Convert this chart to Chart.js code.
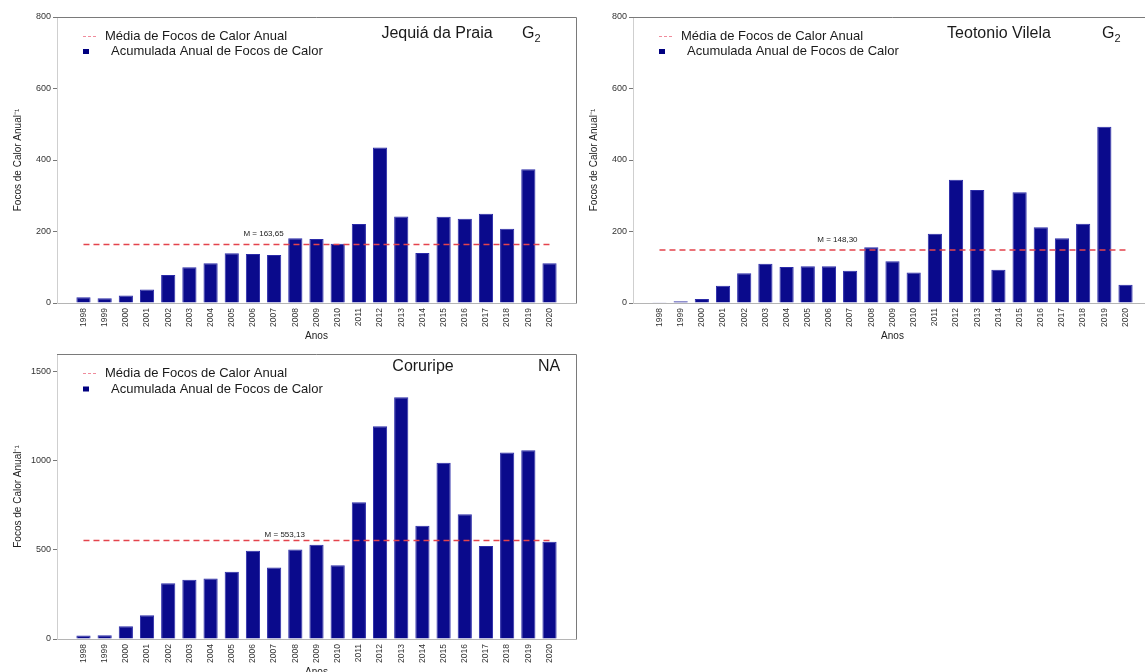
<!DOCTYPE html>
<html>
<head>
<meta charset="utf-8">
<script src="https://cdn.jsdelivr.net/npm/chart.js@4/dist/chart.umd.min.js"></script>
<style>
  html, body { margin: 0; padding: 0; background: #fff; overflow: hidden; width: 1145px; height: 672px; }
  canvas { position: absolute; }
</style>
</head>
<body>
<canvas id="c1" width="590" height="342" style="left:0px;top:0px"></canvas>
<canvas id="c2" width="590" height="342" style="left:576px;top:0px"></canvas>
<canvas id="c3" width="590" height="341" style="left:0px;top:337px"></canvas>
<script>
// Annual accumulated fire hotspots per municipality, 1998-2020
const years = [1998, 1999, 2000, 2001, 2002, 2003, 2004, 2005, 2006, 2007, 2008, 2009,
               2010, 2011, 2012, 2013, 2014, 2015, 2016, 2017, 2018, 2019, 2020];
const focosJequia   = [16, 13, 21, 38, 78, 100, 111, 139, 137, 134, 181, 179,
                       166, 221, 435, 242, 140, 241, 236, 250, 208, 374, 111];
const focosTeotonio = [2, 5, 11, 48, 83, 110, 101, 103, 103, 90, 156, 117,
                       85, 194, 345, 316, 93, 310, 212, 181, 222, 493, 51];
const focosCoruripe = [19, 21, 72, 134, 313, 333, 339, 377, 495, 401, 503, 529,
                       414, 768, 1194, 1357, 636, 990, 700, 522, 1047, 1060, 546];
const mediaAnual = [163.65, 148.30, 553.13];
const municipios = ['Jequiá da Praia', 'Teotonio Vilela', 'Coruripe'];
const grupos = [['G', '2'], ['G', '2'], ['NA', '']];
const ticksJequia   = [0, 200, 400, 600, 800];
const ticksTeotonio = [0, 200, 400, 600, 800];
const ticksCoruripe = [0, 500, 1000, 1500];
const legendLabels = ['Média de Focos de Calor Anual', 'Acumulada Anual de Focos de Calor'];

const FONT = "'Liberation Sans', Arial, Helvetica, sans-serif";
Chart.defaults.font.family = FONT;

const BAR_FILL = '#0a0a8c';
const BAR_EDGE = '#2b2ba8';
const MEAN_COLOR = '#e4434c';

// Frame, in-plot legend, panel titles and the mean annotation
const panelDecor = {
  id: 'panelDecor',
  afterDraw(chart, args, o) {
    const ctx = chart.ctx;
    const a = chart.chartArea;
    ctx.save();

    // top and right frame lines
    ctx.strokeStyle = '#7a7a7a';
    ctx.lineWidth = 1;
    ctx.beginPath();
    ctx.moveTo(a.left, a.top + 0.5);
    ctx.lineTo(a.right + 0.5, a.top + 0.5);
    ctx.lineTo(a.right + 0.5, a.bottom);
    ctx.stroke();

    // legend
    const ds = chart.data.datasets;
    const meanDs = ds.find(d => d.type === 'line');
    const barDs = ds.find(d => d.type === 'bar');
    ctx.font = '13px ' + FONT;
    ctx.fillStyle = '#1a1a1a';
    ctx.textBaseline = 'middle';
    ctx.textAlign = 'left';
    const y1 = a.top + o.legendY[0], y2 = a.top + o.legendY[1];
    ctx.strokeStyle = '#f08c9c';
    ctx.lineWidth = 1.2;
    ctx.setLineDash([3, 2]);
    ctx.beginPath();
    ctx.moveTo(a.left + 26, y1);
    ctx.lineTo(a.left + 40, y1);
    ctx.stroke();
    ctx.setLineDash([]);
    ctx.fillText(meanDs.label, a.left + 48, y1);
    ctx.fillStyle = '#000080';
    ctx.fillRect(a.left + 26, y2 - 2.5, 6, 5);
    ctx.fillStyle = '#1a1a1a';
    ctx.fillText(barDs.label, a.left + 54, y2);

    // panel title and group tag
    ctx.font = '16px ' + FONT;
    ctx.textAlign = 'center';
    ctx.fillText(o.name, a.left + o.nameX, a.top + o.nameY);
    ctx.textAlign = 'left';
    const gx = a.left + o.groupX;
    ctx.fillText(o.group[0], gx, a.top + o.nameY);
    if (o.group[1]) {
      const w = ctx.measureText(o.group[0]).width;
      ctx.font = '11px ' + FONT;
      ctx.fillText(o.group[1], gx + w, a.top + o.nameY + 5);
    }

    // mean annotation
    const xs = chart.scales.x, ys = chart.scales.y;
    ctx.font = '8px ' + FONT;
    ctx.textAlign = 'center';
    ctx.fillStyle = '#1a1a1a';
    const txt = 'M = ' + o.mean.toFixed(2).replace('.', ',');
    ctx.fillText(txt, xs.getPixelForValue(o.labelAt), ys.getPixelForValue(o.mean) - o.labelLift);
    ctx.restore();
  }
};

function makePanel(id, values, mean, yTicks, yMax, decor, xHeight) {
  const first = years[0], last = years[years.length - 1];
  return new Chart(document.getElementById(id), {
    type: 'bar',
    data: {
      datasets: [
        {
          type: 'line',
          label: legendLabels[0],
          data: [{ x: first, y: mean }, { x: last, y: mean }],
          borderColor: MEAN_COLOR,
          borderWidth: 1.6,
          borderDash: [6, 4],
          pointRadius: 0,
          fill: false,
          order: 0
        },
        {
          type: 'bar',
          label: legendLabels[1],
          data: years.map((yr, i) => ({ x: yr, y: values[i] })),
          backgroundColor: BAR_FILL,
          borderColor: BAR_EDGE,
          borderWidth: 1,
          barPercentage: 0.67,
          categoryPercentage: 1,
          order: 1
        }
      ]
    },
    options: {
      responsive: false,
      animation: false,
      devicePixelRatio: 1,
      layout: { padding: { top: 17, right: 14, left: 0, bottom: 0 } },
      plugins: {
        legend: { display: false },
        tooltip: { enabled: false },
        panelDecor: Object.assign({ mean: mean }, decor)
      },
      scales: {
        x: {
          type: 'linear',
          offset: false,
          min: first - 1.25,
          max: last + 1.25,
          afterBuildTicks: s => { s.ticks = years.map(v => ({ value: v })); },
          afterFit: s => { s.height = xHeight; },
          ticks: {
            autoSkip: false,
            minRotation: 90,
            maxRotation: 90,
            padding: 5,
            color: '#333',
            font: { size: 8.5 },
            callback: v => String(v)
          },
          grid: { display: true, drawOnChartArea: false, drawTicks: false, offset: false },
          border: { display: true, color: '#b5b5b5', width: 1 },
          title: { display: true, text: 'Anos', color: '#222', font: { size: 10 }, padding: 0 }
        },
        y: {
          type: 'linear',
          min: 0,
          max: yMax,
          afterBuildTicks: s => { s.ticks = yTicks.map(v => ({ value: v })); },
          afterFit: s => { s.width = 57; },
          ticks: { padding: 2, color: '#333', font: { size: 9 }, callback: v => String(v) },
          grid: { drawOnChartArea: false, drawTicks: true, tickLength: 4, color: '#777' },
          border: { display: true, color: '#cfcfcf', width: 1 },
          title: {
            display: true,
            text: 'Focos de Calor Anual⁻¹',
            color: '#222',
            font: { size: 10 },
            padding: { top: 12, bottom: 0 }
          }
        }
      }
    },
    plugins: [panelDecor]
  });
}

makePanel('c1', focosJequia, mediaAnual[0], ticksJequia, 800, {
  name: municipios[0], group: grupos[0], nameX: 380, groupX: 465, nameY: 17,
  legendY: [19.5, 34.5], labelAt: 2006.5, labelLift: 11
}, 39);

makePanel('c2', focosTeotonio, mediaAnual[1], ticksTeotonio, 800, {
  name: municipios[1], group: grupos[1], nameX: 366, groupX: 469, nameY: 17,
  legendY: [19.5, 34.5], labelAt: 2006.4, labelLift: 10
}, 39);

makePanel('c3', focosCoruripe, mediaAnual[2], ticksCoruripe, 1600, {
  name: municipios[2], group: grupos[2], nameX: 366, groupX: 481, nameY: 13,
  legendY: [19.5, 35], labelAt: 2007.5, labelLift: 6
}, 39);
</script>
</body>
</html>
